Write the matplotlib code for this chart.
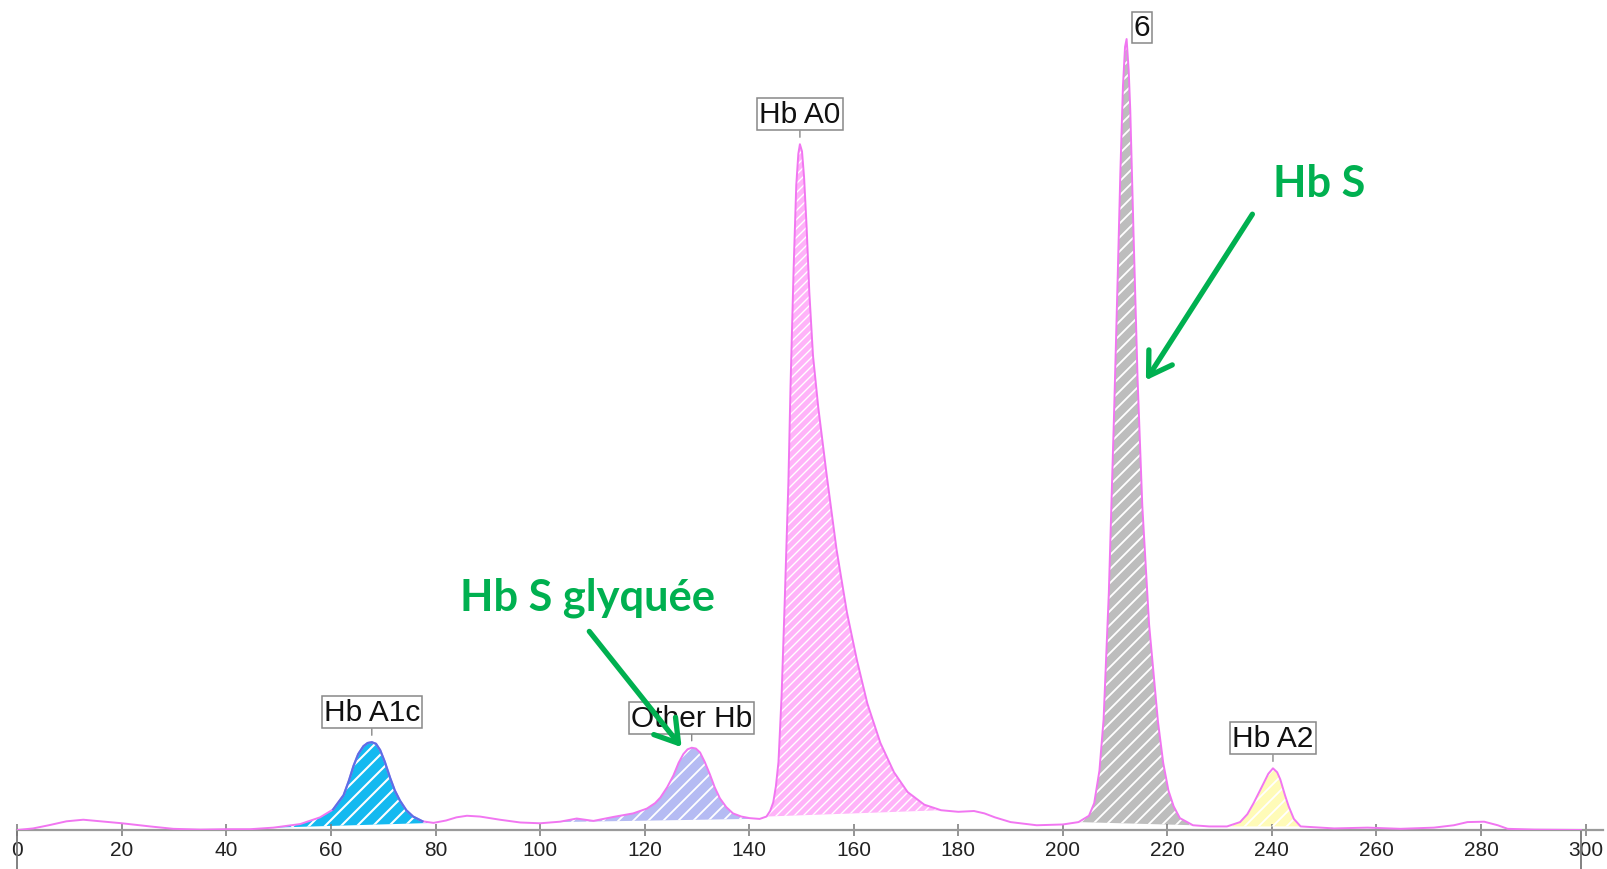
import numpy as np
import matplotlib
matplotlib.use("Agg")
import matplotlib.pyplot as plt
from matplotlib.collections import LineCollection
from matplotlib.transforms import IdentityTransform

# ---------------- data ----------------
time_x = [0, 3, 6, 9.4, 12.6, 15.8, 20, 25.4, 29.8, 35, 40, 44.5, 49, 54.1, 57.9, 60.4,
          62.4, 63.4, 64.3, 65.2, 66.2, 67.0, 67.8, 68.6, 69.4, 70.3, 71.3, 72.2, 73.2,
          74.4, 75.7, 77.5, 79.6, 82, 84, 86, 88.5, 92.3, 96.2, 100, 103.8, 107, 110.2,
          114, 117.8, 120.4, 122, 123, 124.3, 125.5, 126.5, 127.4, 128.2, 129.0, 129.8,
          130.6, 131.5, 132.5, 133.4, 134.4, 135.6, 136.9, 138.5, 140.1, 142, 143.3,
          144.0, 144.6, 145.1, 145.6, 146.2, 146.8, 147.5, 147.9, 148.5, 149.0, 149.4,
          149.7, 150.1, 150.5, 151.0, 151.5, 152.2, 153.2, 154.8, 156.7, 158.7, 160.6,
          162.6, 165.1, 167.7, 170.3, 173.5, 176.7, 180, 183, 185, 187, 190, 195, 200,
          203, 205, 206, 207, 207.8, 208.8, 209.8, 210.5, 211.0, 211.5, 211.9, 212.2,
          212.6, 212.9, 213.5, 214.3, 215.2, 216.5, 218.2, 219.2, 220.2, 221.2, 222.4,
          224.9, 228, 231.4, 233.9, 235.3, 236.5, 237.5, 238.4, 239.3, 240.2, 241.0,
          241.6, 242.5, 243.2, 244.2, 245.5, 251.9, 258.3, 264.6, 271, 274.8, 277.4,
          280.6, 283.2, 285.1, 290.2, 299.1]
signal_y = [0.0, 0.2, 0.6, 1.1, 1.3, 1.1, 0.85, 0.45, 0.15, 0.05, 0.1, 0.1, 0.3, 0.75, 1.6, 2.6,
            4.4, 6.2, 8.1, 9.6, 10.6, 11.0, 11.1, 10.9, 10.1, 8.6, 6.6, 5.0, 3.7,
            2.5, 1.7, 1.1, 0.9, 1.2, 1.6, 1.8, 1.7, 1.3, 0.95, 0.85, 1.05, 1.45, 1.15,
            1.65, 2.1, 2.7, 3.4, 4.1, 5.4, 6.9, 8.5, 9.6, 10.2, 10.4, 10.3,
            9.8, 8.6, 7.0, 5.4, 4.0, 2.9, 2.1, 1.7, 1.5, 1.4, 1.7,
            2.4, 3.5, 5.5, 8.6, 17, 29, 44, 56, 71, 81.5, 85.5,
            86.7, 85.8, 82.5, 76, 68, 60, 53.5, 45, 35.5, 27.5, 21.5,
            16, 11, 7.3, 4.8, 3.2, 2.5, 2.3, 2.4, 2.1, 1.6, 1.0, 0.6, 0.7,
            1.0, 1.8, 3.4, 7.5, 14, 30, 52.6, 70, 83, 94, 99, 100,
            96, 91, 76, 57, 41, 26, 13.7, 8.5, 5.0, 3.0, 1.5,
            0.6, 0.45, 0.45, 1.0, 2.0, 3.4, 4.7, 5.9, 7.1, 7.8, 7.3,
            6.4, 4.4, 3.0, 1.4, 0.45, 0.2, 0.3, 0.15, 0.3, 0.6, 1.0,
            1.05, 0.6, 0.15, 0.05, 0.0]

peak_names = ["Hb A1c", "Other Hb", "Hb A0", "6", "Hb A2"]
peak_start = [49, 103.8, 143.3, 203, 231.4]
peak_end = [79.6, 140.1, 176.7, 224.9, 245.5]
base_start = [0.3, 1.0, 1.7, 1.0, 0.45]
base_end = [0.9, 1.4, 2.5, 0.6, 0.45]
apex_x = [67.8, 129.0, 149.7, 212.2, 240.2]
apex_y = [11.1, 10.4, 86.7, 100, 7.8]
peak_colors = ["#14b9f0", "#b5bbf3", "#ffb3f9", "#bdbdbd", "#fffbb8"]
hatch_spacing_px = [16, 15, 9, 14, 14]
hatch_lw = [1.5, 1.3, 1.0, 1.3, 1.3]

x_ticks = list(range(0, 301, 20))

annot_texts = ["Hb S", "Hb S glyquée"]

# ---------------- drawing ----------------
W, H = 1607, 870
fig = plt.figure(figsize=(W / 100, H / 100), dpi=100)
ax = fig.add_axes([17.4 / W, 39 / H, 1585.4 / W, 831 / H])
ax.set_xlim(0, 303.3)
ax.set_ylim(0, 831 / 7.91)

x = np.array(time_x)
y = np.array(signal_y)

for i in range(len(peak_names)):
    m = (x >= peak_start[i]) & (x <= peak_end[i])
    xs = x[m]
    ys = y[m]
    base = base_start[i] + (xs - xs[0]) / (xs[-1] - xs[0]) * (base_end[i] - base_start[i])
    poly = ax.fill_between(xs, base, ys, facecolor=peak_colors[i], edgecolor='none',
                           linewidth=0, zorder=1)
    # diagonal white hatching, clipped to the filled area
    s = hatch_spacing_px[i]
    segs = [[(c, 0), (c + H, H)] for c in np.arange(-H, W + s, s)]
    lc = LineCollection(segs, colors='white', linewidths=hatch_lw[i],
                        transform=IdentityTransform(), zorder=2)
    ax.add_collection(lc, autolim=False)
    lc.set_clip_path(poly.get_paths()[0], ax.transData)

ax.plot(x, y, color='#f176f1', lw=1.4, zorder=3, solid_joinstyle='round')
# blue outline on the Hb A1c peak
m = (x >= 60.4) & (x <= 77.5)
ax.plot(x[m], y[m], color='#5b70e6', lw=1.6, zorder=4, solid_joinstyle='round')

# peak labels
for i, name in enumerate(peak_names):
    if name == "6":
        ax.annotate(name, xy=(apex_x[i], apex_y[i]), xytext=(10.8, 8.4),
                    textcoords='offset points', ha='center', va='center',
                    fontsize=21.5, family='Liberation Sans', color='#111111',
                    bbox=dict(boxstyle='square,pad=0.06', fc='white', ec='#888888', lw=1.1),
                    zorder=6)
    else:
        ax.annotate(name, xy=(apex_x[i], apex_y[i]), xytext=(0, 21.6),
                    textcoords='offset points', ha='center', va='center',
                    fontsize=21.5, family='Liberation Sans', color='#111111',
                    bbox=dict(boxstyle='square,pad=0.07', fc='white', ec='#888888', lw=1.1),
                    arrowprops=dict(arrowstyle='-', color='#888888', lw=1.0,
                                    shrinkA=0, shrinkB=5),
                    zorder=6)

# axes styling
for sp in ['left', 'right', 'top']:
    ax.spines[sp].set_visible(False)
ax.spines['bottom'].set_color('#9a9a9a')
ax.spines['bottom'].set_linewidth(1.6)
ax.set_yticks([])
ax.set_xticks(x_ticks)
ax.set_xticklabels([str(t) for t in x_ticks], family='Liberation Sans', fontsize=15,
                   color='#222222')
ax.tick_params(axis='x', direction='inout', length=9, width=1.1, color='#777777', pad=2.5)
ax.vlines([0, 299.1], -0.06, 0.0, transform=ax.get_xaxis_transform(),
          color='#777777', lw=1.3, clip_on=False)

# green annotations
green = '#00b050'
t1 = fig.text(1273 / W, 1 - 196.8 / H, annot_texts[0], color=green, fontsize=34,
              fontweight='bold', family='Lato', ha='left', va='baseline')
t2 = fig.text(460 / W, 1 - 610.8 / H, annot_texts[1], color=green, fontsize=34,
              fontweight='bold', family='Lato', ha='left', va='baseline')
fig.canvas.draw()
r = fig.canvas.get_renderer()
w2 = t2.get_window_extent(r).width
fs = 34 * 255 / w2
t1.set_fontsize(fs)
t2.set_fontsize(fs)

arrow_kw = dict(arrowstyle='->,head_length=1.6,head_width=1.0', color=green, lw=3.8,
                mutation_scale=10, shrinkA=0, shrinkB=0)
ax.annotate('', xy=(1145.9, H - 381.3), xytext=(1252.4, H - 215.2),
            xycoords='figure pixels', textcoords='figure pixels',
            arrowprops=arrow_kw, zorder=8)
ax.annotate('', xy=(681.6, H - 748.2), xytext=(589.3, H - 632.4),
            xycoords='figure pixels', textcoords='figure pixels',
            arrowprops=arrow_kw, zorder=8)

fig.savefig('out.png', dpi=100, facecolor='white')
